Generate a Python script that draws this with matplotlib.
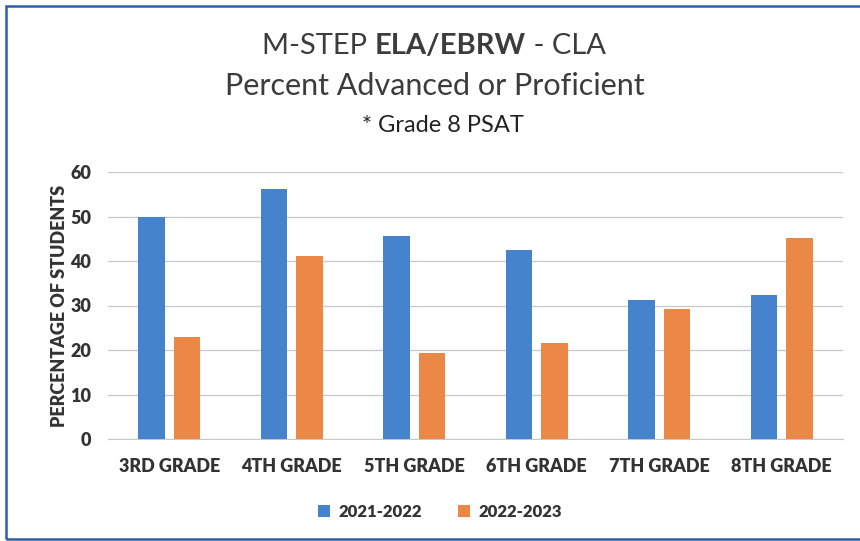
import numpy as np
import matplotlib.pyplot as plt
from matplotlib.patches import Rectangle

# ============================================================
# DATA
# ============================================================

grades = ["3RD GRADE", "4TH GRADE", "5TH GRADE", "6TH GRADE", "7TH GRADE", "8TH GRADE"]
pct_2122 = [50.0, 56.2, 45.6, 42.5, 31.2, 32.3]
pct_2223 = [22.9, 41.1, 19.4, 21.5, 29.2, 45.1]
series_names = ["2021-2022", "2022-2023"]

# ============================================================
# STYLE
# ============================================================

plt.rcParams["font.family"] = ["Lato", "DejaVu Sans"]
blue = "#4584CC"
orange = "#EC8845"
text_col = "#333333"

W, H = 860, 541
fig = plt.figure(figsize=(W / 100, H / 100), dpi=100)
fig.patch.set_facecolor("white")

# frame line from the scanned page
fig.add_artist(Rectangle((6 / W, 2 / H), 1.0, (H - 8) / H, transform=fig.transFigure,
                         fill=False, edgecolor="#2a5fa8", lw=1.8))

ax = fig.add_axes([108 / W, (H - 439) / H, (843 - 108) / W, (439 - 172) / H])

x = np.arange(len(grades))
w = 0.22
ax.bar(x - 0.145, pct_2122, w, color=blue, label=series_names[0], zorder=3)
ax.bar(x + 0.145, pct_2223, w, color=orange, label=series_names[1], zorder=3)

ax.set_xlim(-0.5, len(grades) - 0.5)
ax.set_ylim(0, 60)
ax.set_yticks(range(0, 61, 10))
ax.yaxis.grid(True, color="#c8c8c8", lw=0.9, zorder=0)
for s in ["top", "right", "left"]:
    ax.spines[s].set_visible(False)
ax.spines["bottom"].set_color("#c8c8c8")
ax.tick_params(length=0)
ax.tick_params(axis="y", pad=12, labelsize=13, labelcolor=text_col)
ax.tick_params(axis="x", pad=14, labelsize=13, labelcolor=text_col)
ax.set_xticks(x)
ax.set_xticklabels(grades, fontweight="heavy")
for t in ax.get_yticklabels():
    t.set_fontweight("heavy")
ax.set_ylabel("PERCENTAGE OF STUDENTS", fontsize=13, fontweight="heavy",
              color=text_col, labelpad=2)

leg = ax.legend(loc="center", bbox_to_anchor=(440 / W, (H - 512) / H),
                bbox_transform=fig.transFigure, ncol=2, frameon=False,
                prop={"weight": "heavy", "size": 12}, handlelength=0.7,
                handleheight=0.7, columnspacing=2.2, handletextpad=0.5)
for t in leg.get_texts():
    t.set_color(text_col)

# ============================================================
# TITLE (mixed weight on first line)
# ============================================================

title_col = "#3c3c3c"
renderer = fig.canvas.get_renderer()
parts = [("M-STEP ", "normal"), ("ELA/EBRW", "bold"), (" - CLA", "normal")]
texts = []
for s, wgt in parts:
    t = fig.text(0, 1 - 46 / H, s, fontsize=21, fontweight=wgt, color=title_col,
                 va="center", ha="left")
    texts.append(t)
widths = [t.get_window_extent(renderer).width for t in texts]
x0 = 434 - sum(widths) / 2
for t, wd in zip(texts, widths):
    t.set_x(x0 / W)
    x0 += wd

fig.text(435 / W, 1 - 86 / H, "Percent Advanced or Proficient", fontsize=22,
         color=title_col, ha="center", va="center")
fig.text(443 / W, 1 - 125 / H, "* Grade 8 PSAT", fontsize=17,
         color="#222222", ha="center", va="center")

fig.savefig("out.png", dpi=100)
